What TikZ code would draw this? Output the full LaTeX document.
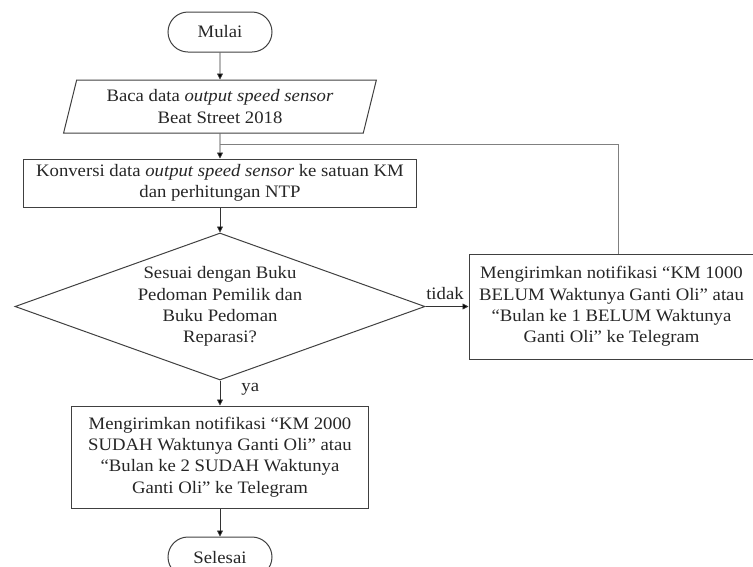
\documentclass[tikz,border=0pt]{standalone}
\usepackage{fontspec}
\setmainfont{Liberation Serif}[FakeStretch=1.07]
\usetikzlibrary{arrows.meta,positioning,shapes.geometric}
\tikzset{
    %Define standard arrow tip
    >={Triangle[length=6pt,width=6pt]},
    %Define style for boxes
    proc/.style={
           rectangle,
           draw=black!75, line width=1pt,
           inner sep=3pt,
           align=center,
           font=\fontsize{17.5}{21.3}\selectfont,
           text=black!85},
    term/.style={
           proc,
           rounded corners=20pt,
           minimum width=104pt,
           minimum height=40pt},
    io/.style={
           proc,
           trapezium,
           trapezium left angle=75,
           trapezium right angle=105,
           trapezium stretches=true,
           minimum width=314pt,
           minimum height=53pt},
    dec/.style={
           proc,
           diamond,
           aspect=2.79,
           inner sep=0pt,
           minimum width=410pt,
           minimum height=147pt},
    % Define arrow style
    pil/.style={
           ->,
           draw=black!80,
           line width=0.8pt},
    lbl/.style={
           inner sep=3pt,
           font=\fontsize{17.5}{21.3}\selectfont,
           text=black!85}
}
\begin{document}
\begin{tikzpicture}[node distance=25pt, x=1pt, y=1pt]
\clip (0,0) rectangle (753,-566);
\node[term](1) at (220,-32){Mulai};
\node[io, below=27pt of 1](2){Baca data \textit{output speed sensor}\\Beat Street 2018};
\node[proc, below=of 2, minimum width=393pt, minimum height=48pt](3){Konversi data \textit{output speed sensor} ke satuan KM\\dan perhitungan NTP};
\node[dec, below=of 3](4){Sesuai dengan Buku\\Pedoman Pemilik dan\\Buku Pedoman\\Reparasi?};
\node[proc, right=43pt of 4, minimum width=285pt, minimum height=105pt](5){Mengirimkan notifikasi “KM 1000\\BELUM Waktunya Ganti Oli” atau\\“Bulan ke 1 BELUM Waktunya\\Ganti Oli” ke Telegram};
\node[proc, below=of 4, minimum width=297pt, minimum height=102pt](6){Mengirimkan notifikasi “KM 2000\\SUDAH Waktunya Ganti Oli” atau\\“Bulan ke 2 SUDAH Waktunya\\Ganti Oli” ke Telegram};
\node[term, below=28pt of 6](7){Selesai};
\coordinate[above=14pt of 3](j);
\path[pil] (1) edge (2)
		(2) edge (3)
		(3) edge (4)
		(4) edge node[lbl, right=18pt, pos=0.35]{ya} (6)
		(6) edge (7)
		(4) edge node[lbl, above, yshift=3pt, xshift=-2pt]{tidak} (5);
\draw[pil, -, draw=black!50, line width=0.7pt] ([xshift=6.5pt]5.north) |- (j);
\end{tikzpicture}
\end{document}
